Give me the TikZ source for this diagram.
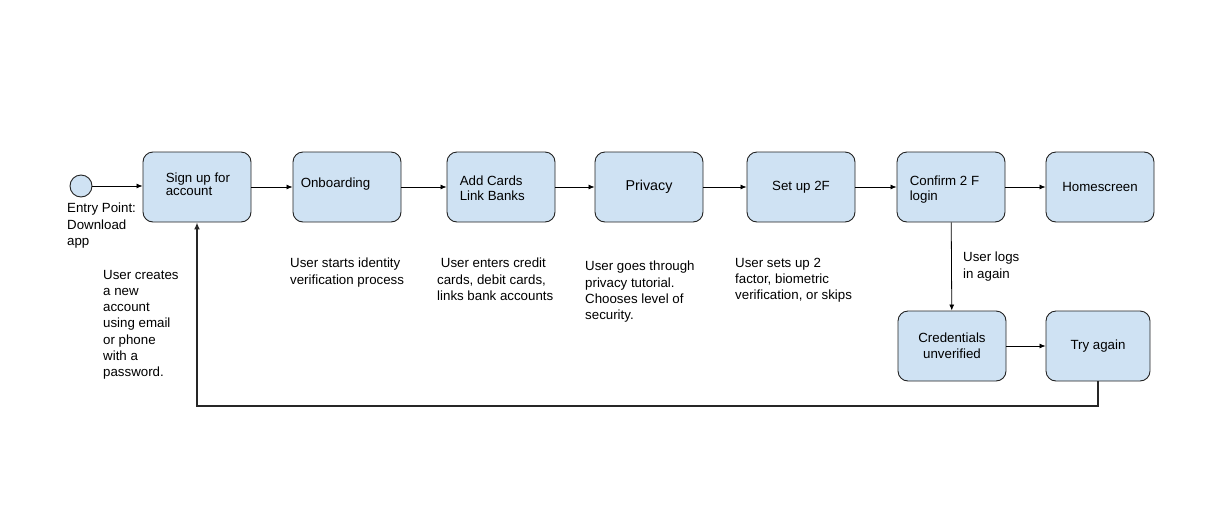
\documentclass[tikz,border=0pt]{standalone}
\usepackage{fontspec}
\setmainfont{Liberation Sans}
\usetikzlibrary{arrows.meta,positioning}
\definecolor{boxblue}{HTML}{CFE2F3}
\definecolor{boxline}{HTML}{222222}

\begin{document}
\begin{tikzpicture}[x=1pt,y=-1pt,
    font=\fontsize{13.3}{16.2}\selectfont,
    box/.style={draw=boxline,fill=boxblue,rounded corners=10pt,line width=0.9pt,
        minimum width=108pt,minimum height=70pt,align=center,inner sep=0pt},
    boxtext/.style={anchor=north west,align=left,inner sep=0pt},
    note/.style={anchor=north west,align=left,inner sep=0pt},
    flow/.style={draw=black,line width=0.8pt,-{Latex[length=6pt,width=5pt]}},
    back/.style={draw=black!85,line width=2pt,-{Latex[length=7pt,width=6pt]}}]
    \useasboundingbox (0,0) rectangle (1219,528);

    % entry point
    \node[circle,draw=boxline,fill=boxblue,line width=0.9pt,minimum size=22pt,inner sep=0pt] (entry) at (81,186) {};
    \node[note] (entrytext) at (67,203) {Entry Point:\\Download\\app};

    % top row of steps
    \node[box] (signup) at (197,187) {};
    \node[boxtext,font=\fontsize{13.3}{13.6}\selectfont] at ([shift={(23,21)}]signup.north west) {Sign up for\\account};
    \node[box] (onboard) at (347,187) {};
    \node[boxtext] at ([shift={(8,26)}]onboard.north west) {Onboarding};
    \node[box] (cards) at (501,187) {};
    \node[boxtext,font=\fontsize{13.3}{15}\selectfont] at ([shift={(13,24)}]cards.north west) {Add Cards\\Link Banks};
    \node[box,font=\fontsize{14.3}{16}\selectfont] (privacy) at (649,187) {Privacy};
    \node[box] (twofa) at (801,187) {Set up 2F};
    \node[box] (confirm) at (951,187) {};
    \node[boxtext,font=\fontsize{13.3}{15}\selectfont] at ([shift={(13,24)}]confirm.north west) {Confirm 2 F\\login};
    \node[box] (home) at (1100,187) {Homescreen};

    % lower row
    \node[box] (creds) at (952,346) {Credentials\\unverified};
    \node[box,minimum width=104pt] (retry) at (1098,346) {Try again};

    % notes under the steps
    \node[note] at (103,270) {User creates\\a new\\account\\using email\\or phone\\with a\\password.};
    \node[note] at (290,258) {User starts identity\\verification process};
    \node[note] at (437,258) {\ User enters credit\\cards, debit cards,\\links bank accounts};
    \node[note] at (585,261) {User goes through\\privacy tutorial.\\Chooses level of\\security.};
    \node[note] at (735,258) {User sets up 2\\factor, biometric\\verification, or skips};
    \node[note] at (963,252) {User logs\\in again};

    % connectors
    \draw[flow] (entry) -- (signup.west |- entry);
    \draw[flow] (signup) -- (onboard);
    \draw[flow] (onboard) -- (cards);
    \draw[flow] (cards) -- (privacy);
    \draw[flow] (privacy) -- (twofa);
    \draw[flow] (twofa) -- (confirm);
    \draw[flow] (confirm) -- (home);
    \draw[flow] (confirm) -- (creds);
    \draw[flow] (creds) -- (retry);
    \draw[back] (retry.south) -- ++(0,25) -| (signup.south);
\end{tikzpicture}
\end{document}
